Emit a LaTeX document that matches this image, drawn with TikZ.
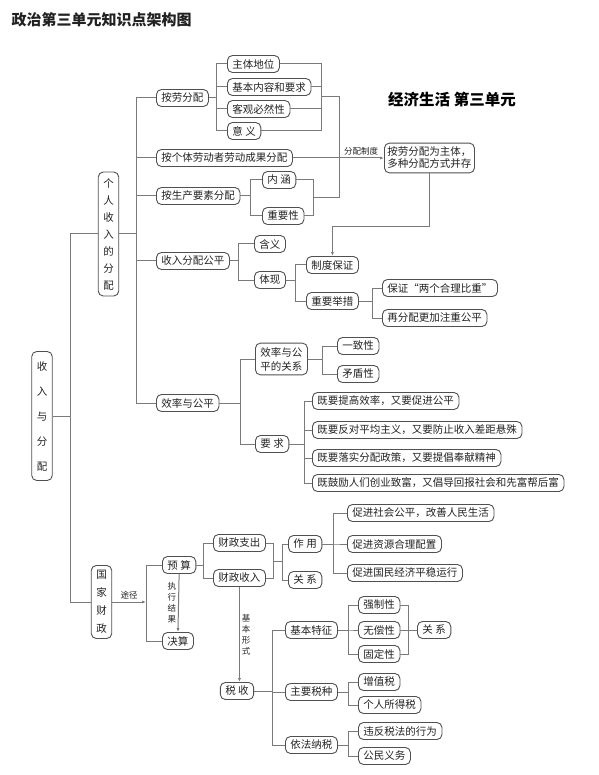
\documentclass[tikz,border=0pt]{standalone}
\usepackage{fontspec}
\setmainfont{Noto Sans CJK SC}
\usetikzlibrary{arrows.meta}
\definecolor{linec}{HTML}{7A7A7A}
\definecolor{boxc}{HTML}{505050}
\definecolor{txtc}{HTML}{222222}

\begin{document}
\begin{tikzpicture}[x=1pt,y=-1pt,>={Latex[length=4pt,width=3pt]},
  font=\fontsize{10.5}{12}\selectfont,
  box/.style={draw=boxc,line width=.9pt,rounded corners=5pt,text=txtc,inner xsep=5pt,inner ysep=2pt,minimum height=17pt,anchor=west},
  vbox/.style={box,anchor=center,align=center},
  link/.style={draw=linec,line width=1pt},
  lab/.style={text=txtc,inner sep=2pt,font=\fontsize{8.5}{11}\selectfont}]
 \useasboundingbox (0,0) rectangle (598,775);
 % titles
 \node[anchor=west,text=txtc,font=\fontsize{15}{18}\selectfont\bfseries] (title) at (8,20) {政治第三单元知识点架构图};
 \node[text=black,font=\fontsize{15.5}{18}\selectfont\bfseries] (unit) at (452,100) {经济生活 第三单元};

 % left column
 \node[vbox,font=\fontsize{10.5}{25}\selectfont,minimum height=129pt] (root) at (42,416) {收\\入\\与\\分\\配};
 \node[vbox,font=\fontsize{10.5}{17}\selectfont,minimum height=124pt] (grsr) at (108.5,234) {个\\人\\收\\入\\的\\分\\配};
 \node[vbox,font=\fontsize{10.5}{18}\selectfont,minimum height=73pt] (gjcz) at (101.5,602) {国\\家\\财\\政};

 % personal income
 \node[box] (alfp) at (156,98) {按劳分配};
 \node[box] (gtld) at (156,158) {按个体劳动者劳动成果分配};
 \node[box] (scys) at (156,196) {按生产要素分配};
 \node[box] (srgp) at (156,261) {收入分配公平};
 \node[box] (xlgp) at (156,403) {效率与公平};

 \node[box] (ztdw) at (227,64) {主体地位};
 \node[box] (jbnr) at (227,87) {基本内容和要求};
 \node[box] (kgbr) at (227,109) {客观必然性};
 \node[box] (yiyi) at (227,131) {意 义};
 \node[box] (neih) at (262,180) {内 涵};
 \node[box] (zyx) at (262,216) {重要性};
 \node[box,align=center,inner xsep=3pt,inner ysep=4pt] (zhidu) at (384,158) {按劳分配为主体，\\多种分配方式并存};

 \node[box] (hany) at (254,244) {含义};
 \node[box] (tixn) at (254,280) {体现};
 \node[box] (zdbz) at (306,265) {制度保证};
 \node[box] (zycs) at (306,301) {重要举措};
 \node[box] (bzbz) at (382,288) {保证“两个合理比重”};
 \node[box] (zfp) at (382,318) {再分配更加注重公平};

 \node[box,align=center,inner ysep=4pt,font=\fontsize{10.5}{14}\selectfont] (gxxl) at (255,359) {效率与公\\平的关系};
 \node[box] (yaoq) at (255,444) {要 求};
 \node[box] (yzx) at (337,346) {一致性};
 \node[box] (mdx) at (337,374) {矛盾性};
 \node[box] (rq1) at (312,401) {既要提高效率，又要促进公平};
 \node[box] (rq2) at (312,430) {既要反对平均主义，又要防止收入差距悬殊};
 \node[box] (rq3) at (312,458) {既要落实分配政策，又要提倡奉献精神};
 \node[box] (rq4) at (312,483) {既鼓励人们创业致富，又倡导回报社会和先富帮后富};

 % public finance
 \node[box] (ysuan) at (162,565) {预 算};
 \node[box] (jsuan) at (162,641) {决算};
 \node[box] (czzc) at (213,543) {财政支出};
 \node[box] (czsr) at (213,578) {财政收入};
 \node[box] (zuoy) at (288,544) {作 用};
 \node[box] (gxa) at (288,580) {关 系};
 \node[box] (zy1) at (347,513) {促进社会公平，改善人民生活};
 \node[box] (zy2) at (347,544) {促进资源合理配置};
 \node[box] (zy3) at (347,573) {促进国民经济平稳运行};

 \node[vbox] (shui) at (237,691) {税 收};
 \node[box] (jbtz) at (285,630) {基本特征};
 \node[box] (zyss) at (285,692) {主要税种};
 \node[box] (yfns) at (285,745) {依法纳税};
 \node[box] (qzx) at (358,605) {强制性};
 \node[box] (wcx) at (358,630) {无偿性};
 \node[box] (gdx) at (358,654) {固定性};
 \node[box] (gxb) at (417,630) {关 系};
 \node[box] (zzs) at (358,682) {增值税};
 \node[box] (grsd) at (358,705) {个人所得税};
 \node[box] (wfsf) at (358,731) {违反税法的行为};
 \node[box] (gmyw) at (358,756) {公民义务};

 % trees
 \foreach \c in {grsr,gjcz}{\draw[link] (root.east) -- ++(18,0) |- (\c.west);}
 \foreach \c in {alfp,gtld,scys,srgp,xlgp}{\draw[link] (grsr.east) -- ++(17,0) |- (\c.west);}
 \foreach \c in {ztdw,jbnr,kgbr,yiyi}{\draw[link] (alfp.east) -- ++(8,0) |- (\c.west);}
 \foreach \c in {neih,zyx}{\draw[link] (scys.east) -- ++(10,0) |- (\c.west);}
 \foreach \c in {hany,tixn}{\draw[link] (srgp.east) -- ++(9,0) |- (\c.west);}
 \foreach \c in {zdbz,zycs}{\draw[link] (tixn.east) -- ++(10,0) |- (\c.west);}
 \foreach \c in {bzbz,zfp}{\draw[link] (zycs.east) -- ++(14,0) |- (\c.west);}
 \foreach \c in {gxxl,yaoq}{\draw[link] (xlgp.east) -- ++(21,0) |- (\c.west);}
 \foreach \c in {yzx,mdx}{\draw[link] (gxxl.east) -- ++(15,0) |- (\c.west);}
 \foreach \c in {rq1,rq2,rq3,rq4}{\draw[link] (yaoq.east) -- ++(15,0) |- (\c.west);}

 % distribution system
 \coordinate (m1) at (321,97);
 \coordinate (m2) at (339,198);
 \coordinate (m3) at (313,198);
 \foreach \c in {ztdw,jbnr,kgbr,yiyi}{\draw[link] (\c.east) -| (m1);}
 \foreach \c in {neih,zyx}{\draw[link] (\c.east) -| (m3);}
 \draw[link] (m1) -| (m2) -- (m3);
 \draw[link,->] (gtld.east) -- (zhidu.west) node[lab,pos=.75,above] {分配制度};
 \draw[link,->] (zhidu.south) -- ++(0,53) -| (zdbz.north);

 % finance tree
 \coordinate (tj) at (146,602);
 \draw[link,->] (gjcz.east) -- (tj) node[lab,midway,above] {途径};
 \draw[link] (tj) |- (ysuan.west);
 \draw[link] (tj) |- (jsuan.west);
 \draw[link,->] (ysuan.south) -- (jsuan.north) node[lab,midway,left,align=center] {执\\行\\结\\果};
 \foreach \c in {czzc,czsr}{\draw[link] (ysuan.east) -- ++(7,0) |- (\c.west);}
 \coordinate (m4) at (273,561);
 \coordinate (m5) at (282,561);
 \foreach \c in {czzc,czsr}{\draw[link] (\c.east) -| (m4);}
 \draw[link] (m4) -- (m5);
 \foreach \c in {zuoy,gxa}{\draw[link] (m5) |- (\c.west);}
 \foreach \c in {zy1,zy2,zy3}{\draw[link] (zuoy.east) -- ++(11,0) |- (\c.west);}

 % tax
 \draw[link,->] (czsr.south) -- (czsr.south |- shui.north) node[lab,midway,right,align=center] {基\\本\\形\\式};
 \foreach \c in {jbtz,zyss,yfns}{\draw[link] (shui.east) -- ++(18,0) |- (\c.west);}
 \foreach \c in {qzx,wcx,gdx}{\draw[link] (jbtz.east) -- ++(11,0) |- (\c.west);}
 \coordinate (m7) at (408,630);
 \foreach \c in {qzx,wcx,gdx}{\draw[link] (\c.east) -| (m7);}
 \draw[link] (m7) -- (gxb.west);
 \foreach \c in {zzs,grsd}{\draw[link] (zyss.east) -- ++(11,0) |- (\c.west);}
 \foreach \c in {wfsf,gmyw}{\draw[link] (yfns.east) -- ++(11,0) |- (\c.west);}
\end{tikzpicture}
\end{document}
